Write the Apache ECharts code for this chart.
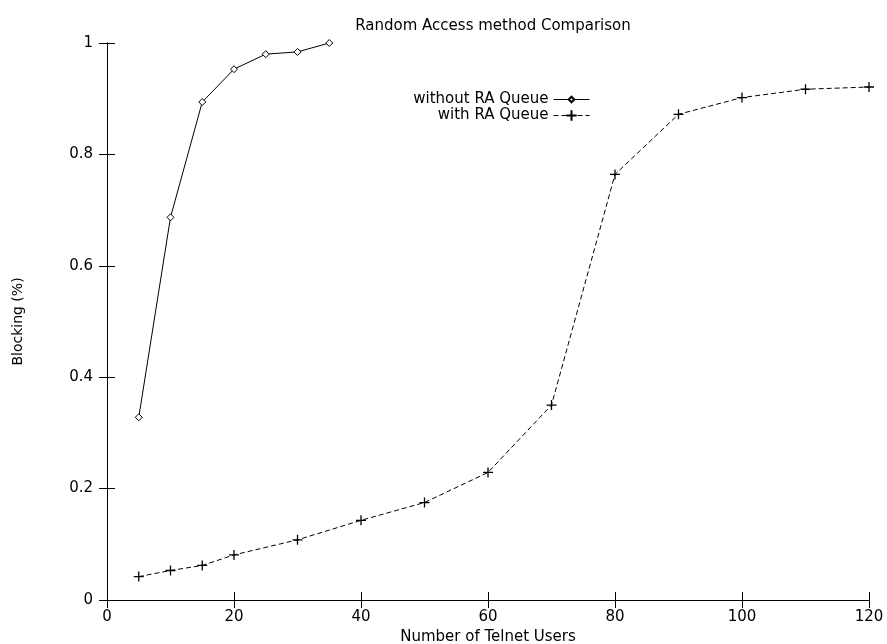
<!DOCTYPE html>
<html>
<head>
<meta charset="utf-8">
<script src="https://cdn.jsdelivr.net/npm/echarts@6/dist/echarts.min.js"></script>
<style>
html,body{margin:0;padding:0;background:#fff;}
#chart{width:887px;height:644px;}
</style>
</head>
<body>
<div id="chart"></div>
<script>
const xTicks = [0, 20, 40, 60, 80, 100, 120];
const usersWithout = [5, 10, 15, 20, 25, 30, 35];
const blockingWithout = [0.328, 0.687, 0.894, 0.953, 0.980, 0.984, 1.0];
const usersWith = [5, 10, 15, 20, 30, 40, 50, 60, 70, 80, 90, 100, 110, 120];
const blockingWith = [0.042, 0.053, 0.062, 0.081, 0.108, 0.143, 0.175, 0.229, 0.350, 0.764, 0.872, 0.902, 0.917, 0.921];
const seriesNames = ['without RA Queue', 'with RA Queue'];

const FONT = 'DejaVu Sans';
const FS = 15;
const PLUS = 'path://M0,5L10,5M5,0L5,10';
const chart = echarts.init(document.getElementById('chart'), null, {renderer: 'canvas'});
const pair = (xs, ys) => xs.map((x, i) => [x, ys[i]]);
const axisCommon = {
  axisLine: {show: true, lineStyle: {color: '#000', width: 1}},
  axisTick: {show: true, inside: true, length: 8, lineStyle: {color: '#000', width: 1}},
  splitLine: {show: false}
};
const legendCommon = {
  orient: 'vertical', right: 292, align: 'right',
  itemWidth: 36, itemGap: 4,
  lineStyle: {width: 1},
  textStyle: {fontFamily: FONT, fontSize: FS, color: '#000'}
};
chart.setOption({
  animation: false,
  backgroundColor: '#fff',
  title: {
    text: 'Random Access method Comparison',
    left: 488, top: 14, textAlign: 'center',
    textStyle: {fontFamily: FONT, fontSize: FS, fontWeight: 'normal', color: '#000'}
  },
  legend: [
    Object.assign({}, legendCommon, {data: [seriesNames[0]], top: 87, itemHeight: 7}),
    Object.assign({}, legendCommon, {data: [seriesNames[1]], top: 103, itemHeight: 13})
  ],
  grid: {left: 107, right: 18, top: 43, bottom: 44, containLabel: false, outerBoundsMode: 'none'},
  xAxis: [
    Object.assign({}, axisCommon, {
      type: 'value', min: xTicks[0], max: xTicks[xTicks.length - 1], interval: 20,
      position: 'bottom',
      name: 'Number of Telnet Users', nameLocation: 'middle', nameGap: 28,
      nameTextStyle: {fontFamily: FONT, fontSize: FS, color: '#000'},
      axisLabel: {fontFamily: FONT, fontSize: FS, color: '#000', margin: 10}
    }),
    Object.assign({}, axisCommon, {
      type: 'value', min: xTicks[0], max: xTicks[xTicks.length - 1], interval: 20,
      position: 'top', axisLabel: {show: false}
    })
  ],
  yAxis: [
    Object.assign({}, axisCommon, {
      type: 'value', min: 0, max: 1, interval: 0.2,
      name: 'Blocking (%)', nameLocation: 'middle', nameGap: 82, nameRotate: 90,
      nameTextStyle: {fontFamily: FONT, fontSize: 14, color: '#000'},
      axisLabel: {fontFamily: FONT, fontSize: FS, color: '#000', margin: 14}
    }),
    Object.assign({}, axisCommon, {
      type: 'value', min: 0, max: 1, interval: 0.2,
      position: 'right', axisLabel: {show: false}
    })
  ],
  series: [
    {
      name: seriesNames[0], type: 'line', xAxisIndex: 0, yAxisIndex: 0,
      data: pair(usersWithout, blockingWithout),
      symbol: 'diamond', symbolSize: 7, showSymbol: true,
      lineStyle: {color: '#000', width: 1, type: 'solid'},
      itemStyle: {color: '#fff', borderColor: '#000', borderWidth: 1},
      emphasis: {disabled: true}, silent: true
    },
    {
      name: seriesNames[1], type: 'line', xAxisIndex: 0, yAxisIndex: 0,
      data: pair(usersWith, blockingWith),
      symbol: PLUS, symbolSize: 10, showSymbol: true,
      lineStyle: {color: '#000', width: 1, type: [5, 3]},
      itemStyle: {color: '#000', borderColor: '#000', borderWidth: 1.3},
      emphasis: {disabled: true}, silent: true
    }
  ]
});
</script>
</body>
</html>
